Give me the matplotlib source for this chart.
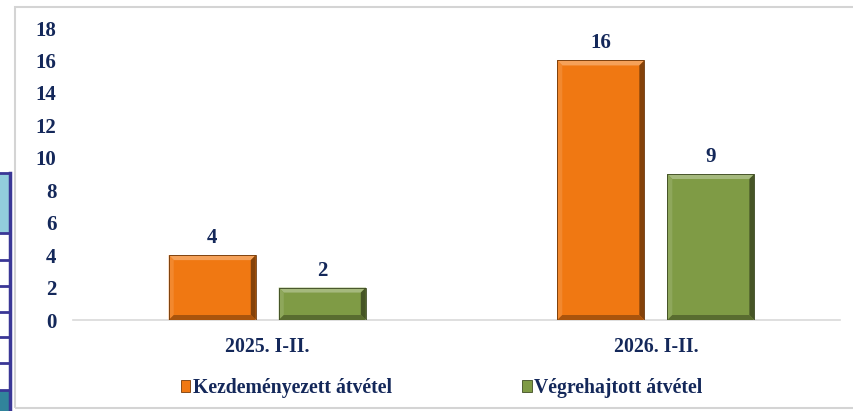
import numpy as np
import matplotlib
matplotlib.use("Agg")
import matplotlib.pyplot as plt
from matplotlib.patches import Polygon, Rectangle
from matplotlib.colors import to_rgb

# periods and the two counts per period
periods = ["2025. I-II.", "2026. I-II."]
series_names = ["Kezdeményezett átvétel", "Végrehajtott átvétel"]
initiated = [4, 16]
executed = [2, 9]
y_ticks = [0, 2, 4, 6, 8, 10, 12, 14, 16, 18]

ORANGE = "#F07812"
GREEN = "#7F9B45"
NAVY = "#14285A"

plt.rcParams['font.family'] = ['Liberation Serif', 'DejaVu Serif']
plt.rcParams['font.weight'] = 'bold'


def shade(color, amount):
    # amount > 0 lightens toward white, < 0 darkens toward black
    c = np.array(to_rgb(color))
    if amount >= 0:
        return tuple(c + (1 - c) * amount)
    return tuple(c * (1 + amount))


def bevel_bar(ax, xc, width, height, color, bx, by):
    x0, x1 = xc - width / 2, xc + width / 2
    y0, y1 = 0, height
    ax.add_patch(Rectangle((x0, y0), width, height, facecolor=color,
                           edgecolor='none', zorder=2))
    # four bevel faces: top, left, right, bottom
    faces = [
        ([(x0, y1), (x1, y1), (x1 - bx, y1 - by), (x0 + bx, y1 - by)], 0.30),
        ([(x0, y0), (x0, y1), (x0 + bx, y1 - by), (x0 + bx, y0 + by)], 0.12),
        ([(x1, y0), (x1, y1), (x1 - bx, y1 - by), (x1 - bx, y0 + by)], -0.45),
        ([(x0, y0), (x1, y0), (x1 - bx, y0 + by), (x0 + bx, y0 + by)], -0.30),
    ]
    for pts, amt in faces:
        ax.add_patch(Polygon(pts, closed=True, facecolor=shade(color, amt),
                             edgecolor='none', zorder=3))
    ax.add_patch(Rectangle((x0, y0), width, height, facecolor='none',
                           edgecolor=shade(color, -0.55), linewidth=0.6, zorder=4))


fig = plt.figure(figsize=(8.54, 4.11), dpi=100)
ax = fig.add_axes([73 / 854, 1 - 320 / 411, (840 - 73) / 854, (320 - 28) / 411])

xlim = (-0.5, 1.474)
ylim = (0, 18)
ax.set_xlim(*xlim)
ax.set_ylim(*ylim)

# bevel size of about 5 px converted to data units
ax_w_px = (840 - 73)
ax_h_px = (320 - 28)
bx = 5 * (xlim[1] - xlim[0]) / ax_w_px
by = 5 * (ylim[1] - ylim[0]) / ax_h_px

x = np.arange(len(periods))
bar_w = 0.224
offset = 0.1416
for i in range(len(periods)):
    for val, dx, col in [(initiated[i], -offset, ORANGE), (executed[i], offset, GREEN)]:
        bevel_bar(ax, x[i] + dx, bar_w, val, col, bx, by)
        ax.annotate(str(val), (x[i] + dx, val), xytext=(0, 5),
                    textcoords='offset points', ha='center', va='bottom',
                    fontsize=15, fontweight='bold', color=NAVY)

for s in ['top', 'right', 'left']:
    ax.spines[s].set_visible(False)
ax.spines['bottom'].set_color('#D9D9D9')
ax.spines['bottom'].set_linewidth(1.2)

ax.set_xticks(x)
ax.set_xticklabels(periods)
ax.set_yticks(y_ticks)
ax.tick_params(axis='x', length=0, pad=12, labelsize=14.2, labelcolor=NAVY)
ax.tick_params(axis='y', length=0, pad=12, labelsize=15, labelcolor=NAVY)
for lbl in ax.get_xticklabels() + ax.get_yticklabels():
    lbl.set_fontweight('bold')

# legend
handles = [Rectangle((0, 0), 1, 1, facecolor=ORANGE, edgecolor=shade(ORANGE, -0.5), linewidth=0.6),
           Rectangle((0, 0), 1, 1, facecolor=GREEN, edgecolor=shade(GREEN, -0.5), linewidth=0.6)]
leg = fig.legend(handles, series_names, loc='center', bbox_to_anchor=(0.517, 0.056),
                 ncol=2, frameon=False, handlelength=0.5, handleheight=0.5,
                 handletextpad=0.12, columnspacing=6.6,
                 prop={'size': 14.2, 'weight': 'bold'})
for t in leg.get_texts():
    t.set_color(NAVY)

# chart frame (right side runs off the edge)
fig.patches.append(Rectangle((15 / 854, 1 - 408 / 411), (870 - 15) / 854, (408 - 7) / 411,
                             transform=fig.transFigure, facecolor='none',
                             edgecolor='#D4D4D4', linewidth=1.5, zorder=0))

# neighbouring table edge on the left
tbl_col = '#3A3796'
fig.patches.append(Rectangle((-5 / 854, 1 - 233 / 411), 15 / 854, (233 - 174) / 411,
                             transform=fig.transFigure, facecolor='#92CDDC',
                             edgecolor='none', zorder=1))
fig.patches.append(Rectangle((-5 / 854, 1 - 411 / 411), 15 / 854, (411 - 390) / 411,
                             transform=fig.transFigure, facecolor='#31849B',
                             edgecolor='none', zorder=1))
fig.lines.append(plt.Line2D([10 / 854, 10 / 854], [1 - 173 / 411, 0],
                            transform=fig.transFigure, color=tbl_col, linewidth=2.5))
for yy in [173, 233, 260, 286, 312, 337, 363, 390]:
    fig.lines.append(plt.Line2D([0, 10 / 854], [1 - yy / 411, 1 - yy / 411],
                                transform=fig.transFigure, color=tbl_col, linewidth=2))

fig.savefig("out.png", dpi=100)
